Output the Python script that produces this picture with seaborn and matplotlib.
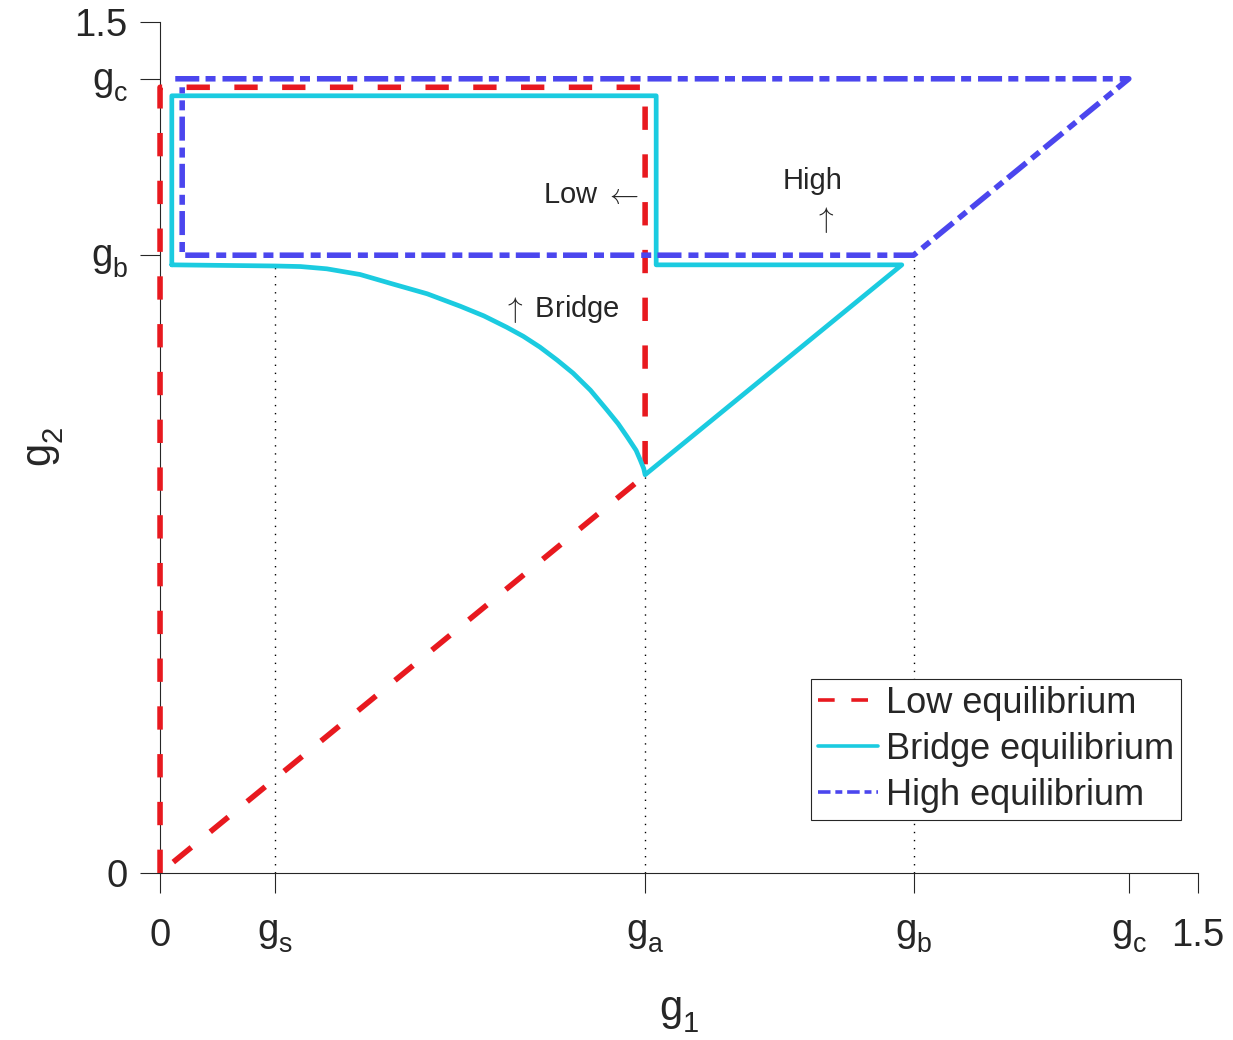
import numpy as np
import pandas as pd
import matplotlib
matplotlib.use("Agg")
import matplotlib.pyplot as plt
import seaborn as sns

# characteristic values on both axes
gs, ga, gb, gc = 0.166, 0.701, 1.089, 1.400

# low equilibrium boundary
low_x = [0.0, 0.0, ga, ga, 0.0]
low_y = [0.0, 1.385, 1.385, ga, 0.0]

# bridge equilibrium boundary (box + curved lower part)
bridge_x = [0.017, 0.017, 0.717, 0.717, 1.072, 0.701, 0.699, 0.694, 0.688,
            0.675, 0.662, 0.646, 0.622, 0.597, 0.574, 0.549, 0.525, 0.501,
            0.468, 0.434, 0.386, 0.337, 0.289, 0.241, 0.203, 0.166, 0.017]
bridge_y = [1.072, 1.370, 1.370, 1.072, 1.072, 0.702, 0.713, 0.728, 0.745,
            0.769, 0.792, 0.816, 0.851, 0.881, 0.904, 0.927, 0.946, 0.962,
            0.982, 0.999, 1.021, 1.038, 1.055, 1.065, 1.069, 1.070, 1.072]

# high equilibrium boundary
high_x = [0.022, gc, gb, 0.032, 0.032]
high_y = [gc, gc, gb, gb, 1.385]

# dotted guides
guide_x = [gs, ga, gb]
guide_top = [1.072, ga, gb]

xticks = [0, gs, ga, gb, gc, 1.5]
xtick_labels = ["0", r"$g_s$", r"$g_a$", r"$g_b$", r"$g_c$", "1.5"]
yticks = [0, gb, gc, 1.5]
ytick_labels = ["0", r"$g_b$", r"$g_c$", "1.5"]

sns.set_theme(style="ticks")
plt.rcParams["font.family"] = ["Liberation Sans", "DejaVu Sans"]
plt.rcParams["mathtext.fontset"] = "custom"
plt.rcParams["mathtext.rm"] = "Liberation Sans"
plt.rcParams["mathtext.it"] = "Liberation Sans"
plt.rcParams["lines.scale_dashes"] = False
# lower the subscripts a bit, closer to the TeX look of the original
try:
    import matplotlib._mathtext as _mt
    _mt.FontConstantsBase.sub1 = 0.55
except Exception:
    pass

axc = "#262626"
fig = plt.figure(figsize=(12.33, 10.4), dpi=100)
ax = fig.add_axes([0.1298, 0.1606, 0.8418, 0.8182])

for gx, gt in zip(guide_x, guide_top):
    ax.plot([gx, gx], [0, gt], color="black", lw=1.0, linestyle=(0, (1, 4.8)),
            zorder=1)

sns.lineplot(x=low_x, y=low_y, sort=False, estimator=None, ax=ax,
             color="#E8191F", linewidth=4.0, linestyle=(0, (16.8, 17.6)),
             label="Low equilibrium", clip_on=False, zorder=3)
sns.lineplot(x=bridge_x, y=bridge_y, sort=False, estimator=None, ax=ax,
             color="#1BCBE0", linewidth=3.4, label="Bridge equilibrium",
             clip_on=False, zorder=4)
sns.lineplot(x=high_x, y=high_y, sort=False, estimator=None, ax=ax,
             color="#4B46EE", linewidth=4.0,
             linestyle=(0, (17.3, 4.5, 7.2, 5.0)), label="High equilibrium",
             clip_on=False, zorder=5)

ax.set_xlim(0, 1.5)
ax.set_ylim(0, 1.5)
ax.set_xticks(xticks)
ax.set_xticklabels(xtick_labels)
ax.set_yticks(yticks)
ax.set_yticklabels(ytick_labels)
ax.tick_params(axis="both", direction="out", length=14.4, width=0.8,
               colors=axc, labelsize=27.5, labelcolor=axc,
               bottom=True, left=True)
ax.tick_params(axis="x", pad=18)
ax.tick_params(axis="y", pad=9)
for s in ["top", "right"]:
    ax.spines[s].set_visible(False)
for s in ["left", "bottom"]:
    ax.spines[s].set_color(axc)
    ax.spines[s].set_linewidth(0.8)

ax.set_xlabel(r"$g_1$", fontsize=30, color=axc, labelpad=29)
ax.set_ylabel(r"$g_2$", fontsize=30, color=axc, labelpad=6)

ax.text(0.5535, 1.195, r"Low $\leftarrow$", fontsize=21, ha="left",
        va="center", math_fontfamily="cm")
ax.text(0.9436, 1.2205, "High", fontsize=21, ha="center", va="center")
ax.text(0.9595, 1.151, r"$\uparrow$", fontsize=21, ha="center", va="center",
        math_fontfamily="cm")
ax.text(0.494, 0.994, r"$\uparrow$ Bridge", fontsize=21, ha="left",
        va="center", math_fontfamily="cm")

leg = ax.legend(loc="lower right", bbox_to_anchor=(0.9836, 0.0623),
                borderaxespad=0, fancybox=False, framealpha=1, fontsize=26,
                handlelength=1.67, handletextpad=0.2, labelspacing=0.3,
                borderpad=0.2)
leg.get_frame().set_edgecolor(axc)
leg.get_frame().set_linewidth(0.8)
hl = leg.get_lines()
hl[0].set_linestyle((0, (12, 12)))
hl[2].set_linestyle((0, (9, 3.5, 5, 3.5)))
for h in hl:
    h.set_linewidth(2.6)

fig.savefig("out.png", dpi=100)
